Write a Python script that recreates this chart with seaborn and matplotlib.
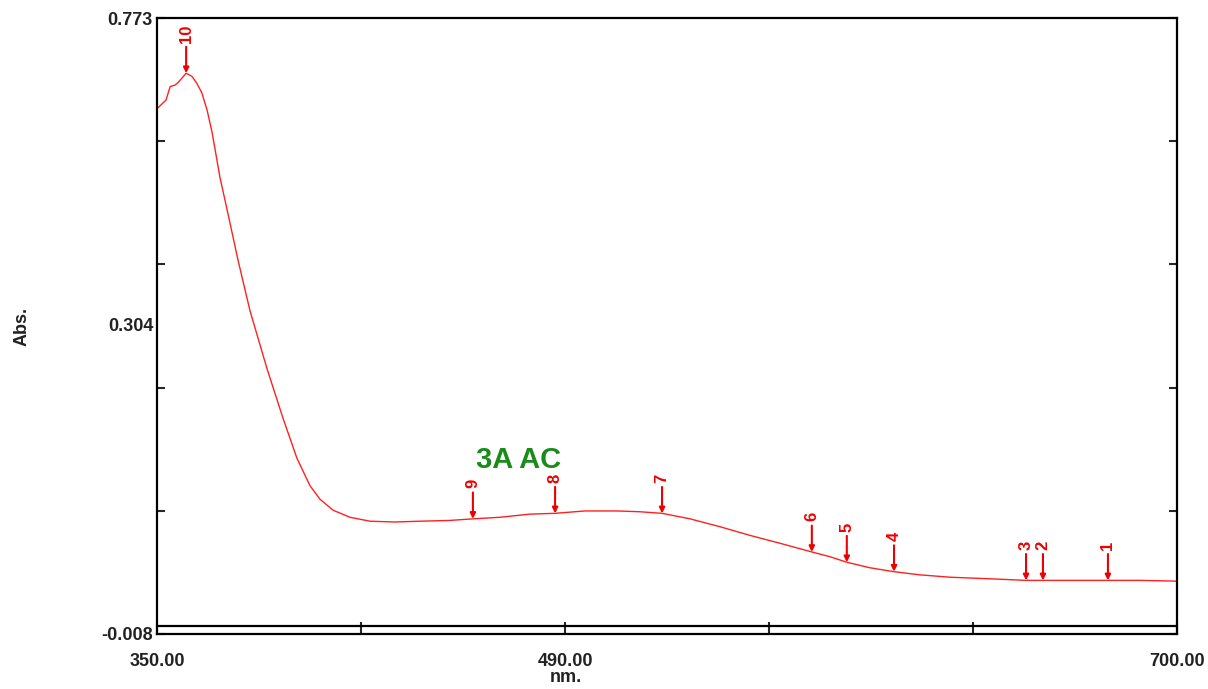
import numpy as np
import pandas as pd
import matplotlib
matplotlib.use("Agg")
import matplotlib.pyplot as plt
import seaborn as sns

# spectrum
wavelength = [350.3, 351.7, 353.1, 354.5, 356.2, 357.2, 358.6, 360.0, 362.0, 363.7,
              365.4, 367.2, 368.9, 371.6, 374.7, 377.8, 381.9, 387.7, 393.2, 398.0,
              402.5, 405.9, 410.4, 416.2, 423.1, 431.7, 440.2, 450.5, 458.4,
              467.7, 478.0, 486.6, 496.8, 507.8, 515.7, 523.3, 532.9, 543.2, 553.5,
              563.8, 574.7, 580.9, 586.7, 594.6, 602.9, 611.8, 622.1, 635.8, 648.2,
              654.0, 663.2, 676.3, 687.3, 700.0]
absorbance = [0.659, 0.664, 0.669, 0.686, 0.688, 0.691, 0.697, 0.703, 0.699, 0.690,
              0.678, 0.656, 0.628, 0.571, 0.519, 0.466, 0.402, 0.329, 0.266, 0.215,
              0.180, 0.163, 0.149, 0.140, 0.135, 0.134, 0.135, 0.136, 0.138,
              0.140, 0.144, 0.145, 0.148, 0.148, 0.147, 0.145, 0.138, 0.128, 0.117,
              0.107, 0.096, 0.090, 0.083, 0.076, 0.071, 0.067, 0.064, 0.062, 0.060,
              0.060, 0.060, 0.060, 0.060, 0.059]

# picked peaks
peak_labels = ["1", "2", "3", "4", "5", "6", "7", "8", "9", "10"]
peak_nm = [676.3, 654.0, 648.2, 602.9, 586.7, 574.7, 523.3, 486.6, 458.4, 360.0]
peak_abs = [0.060, 0.060, 0.060, 0.071, 0.083, 0.096, 0.145, 0.145, 0.138, 0.703]

y_min, y_max = -0.008, 0.773
x_ticks = [350, 420, 490, 560, 630, 700]
x_labels = ["350.00", "", "490.00", "", "", "700.00"]

df = pd.DataFrame({"nm": wavelength, "Abs": absorbance})

sns.set_style("white")
plt.rcParams["font.family"] = ["Liberation Sans", "DejaVu Sans"]

fig = plt.figure(figsize=(12.08, 6.89), dpi=100)
ax = fig.add_axes([157 / 1208, 1 - 634 / 689, 1020 / 1208, 616 / 689])

sns.lineplot(data=df, x="nm", y="Abs", ax=ax, color="#ff2020", linewidth=1.0)

for lab, xp, yp in zip(peak_labels, peak_nm, peak_abs):
    ax.annotate("", xy=(xp, yp), xytext=(0, 19), textcoords="offset points",
                arrowprops=dict(arrowstyle="-|>", color="#ee0000", lw=1.5,
                                mutation_scale=8, shrinkA=0, shrinkB=0))
    ax.annotate(lab, xy=(xp, yp), xytext=(0, 22), textcoords="offset points",
                rotation=90, ha="center", va="bottom", color="#ee0000",
                fontsize=12, fontweight="bold")

ax.set_xlim(350, 700)
ax.set_ylim(y_min, y_max)

tick_font = dict(fontsize=13, fontweight="bold", color="#222222")

ax.set_xticks(x_ticks)
ax.set_xticklabels(x_labels, **tick_font)
ax.tick_params(axis="x", direction="in", length=9, width=1.5, bottom=True, pad=14)

y_ticks = np.linspace(y_min, y_max, 6)
ax.set_yticks(y_ticks)
ax.set_yticklabels(["-0.008", "", "", "", "", "0.773"], **tick_font)
ax.tick_params(axis="y", direction="in", length=6, width=1.5, left=True, right=True, pad=3)

for sp in ax.spines.values():
    sp.set_linewidth(1.6)
    sp.set_color("black")

# x ruler strip line
ax.plot([0, 1], [8 / 616, 8 / 616], transform=ax.transAxes, color="black", lw=1.6,
        clip_on=False)

ax.set_xlabel("")
ax.set_ylabel("")
fig.text(154 / 1208, 1 - 326 / 689, "0.304", ha="right", va="center", **tick_font)
fig.text(22 / 1208, 1 - 326 / 689, "Abs.", rotation=90, ha="center", va="center", **tick_font)
fig.text(566 / 1208, 1 - 678 / 689, "nm.", ha="center", va="center", **tick_font)
fig.text(519 / 1208, 1 - 460 / 689, "3A AC", ha="center", va="center", fontsize=21,
         fontweight="bold", color="#1a8a1a")

fig.savefig("out.png", dpi=100)
